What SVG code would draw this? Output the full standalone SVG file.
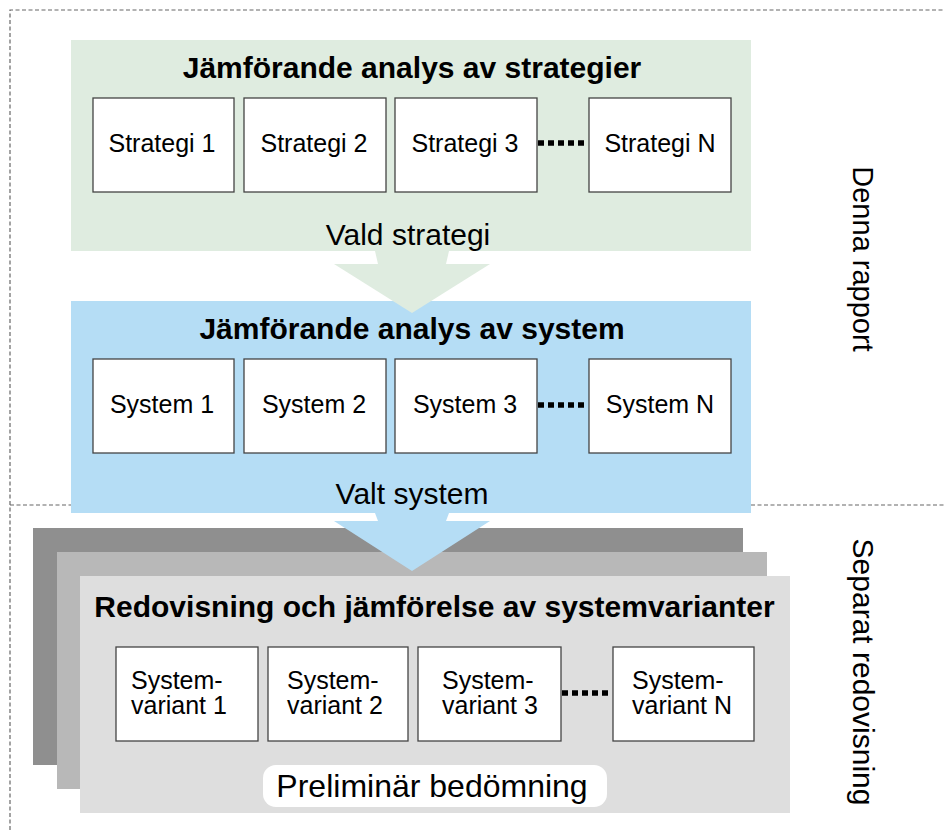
<svg xmlns="http://www.w3.org/2000/svg" width="944" height="830" viewBox="0 0 944 830">
  <style>
    .frame { fill: none; stroke: #666; stroke-width: 1.2; stroke-dasharray: 4 2.5; }
    .box { fill: #fff; stroke: #444; stroke-width: 1.3; }
    .title { font-family: "Liberation Sans", Arial, sans-serif; font-weight: bold; font-size: 30px; fill: #000; text-anchor: middle; }
    .lbl { font-family: "Liberation Sans", Arial, sans-serif; font-size: 25px; fill: #000; }
    .mid { text-anchor: middle; }
    .big { font-family: "Liberation Sans", Arial, sans-serif; font-size: 30px; fill: #000; text-anchor: middle; }
    .side { font-family: "Liberation Sans", Arial, sans-serif; font-size: 29px; fill: #000; text-anchor: middle; }
    .dots { stroke: #000; stroke-width: 5.5; stroke-dasharray: 6 4; fill: none; }
  </style>

  <rect width="944" height="830" fill="#fff"/>

  <!-- dashed report frame and divider -->
  <g id="frame">
    <path class="frame" d="M10 830 V10 H944"/>
    <path class="frame" d="M10 505 H944"/>
  </g>

  <!-- stacked grey backdrop sheets -->
  <g id="variant-stack">
    <rect x="33" y="528" width="710" height="237" fill="#8f8f8f"/>
    <rect x="57" y="552" width="710" height="237" fill="#b8b8b8"/>
  </g>

  <!-- strategies panel -->
  <g id="strategies">
    <rect x="71" y="40" width="680" height="211" fill="#dfece0"/>
    <text class="title" x="412" y="78">Jämförande analys av strategier</text>
    <g id="strategi-1"><rect class="box" x="93" y="98" width="141" height="94"/><text class="lbl mid" x="162" y="152">Strategi 1</text></g>
    <g id="strategi-2"><rect class="box" x="244" y="98" width="142" height="94"/><text class="lbl mid" x="314" y="152">Strategi 2</text></g>
    <g id="strategi-3"><rect class="box" x="395" y="98" width="142" height="94"/><text class="lbl mid" x="465" y="152">Strategi 3</text></g>
    <g id="strategi-n"><rect class="box" x="589" y="98" width="142" height="94"/><text class="lbl mid" x="660" y="152">Strategi N</text></g>
    <text class="big" x="408" y="245">Vald strategi</text>
  </g>

  <!-- systems panel -->
  <g id="systems">
    <rect x="71" y="301" width="680" height="212" fill="#b5ddf5"/>
    <text class="title" x="412" y="339">Jämförande analys av system</text>
    <g id="system-1"><rect class="box" x="93" y="359" width="141" height="94"/><text class="lbl mid" x="162" y="413">System 1</text></g>
    <g id="system-2"><rect class="box" x="244" y="359" width="142" height="94"/><text class="lbl mid" x="314" y="413">System 2</text></g>
    <g id="system-3"><rect class="box" x="395" y="359" width="142" height="94"/><text class="lbl mid" x="465" y="413">System 3</text></g>
    <g id="system-n"><rect class="box" x="589" y="359" width="142" height="94"/><text class="lbl mid" x="660" y="413">System N</text></g>
    <text class="big" x="412" y="504">Valt system</text>
  </g>

  <!-- system variants panel -->
  <g id="variants">
    <rect x="80" y="576" width="710" height="237" fill="#dedede"/>
    <text class="title" x="434.5" y="617">Redovisning och jämförelse av systemvarianter</text>
    <g id="variant-1"><rect class="box" x="116" y="647" width="142" height="94"/><text class="lbl" x="131" y="689">System-</text><text class="lbl" x="131" y="714">variant 1</text></g>
    <g id="variant-2"><rect class="box" x="268" y="647" width="140" height="94"/><text class="lbl" x="287" y="689">System-</text><text class="lbl" x="287" y="714">variant 2</text></g>
    <g id="variant-3"><rect class="box" x="418" y="647" width="143" height="94"/><text class="lbl" x="442" y="689">System-</text><text class="lbl" x="442" y="714">variant 3</text></g>
    <g id="variant-n"><rect class="box" x="613" y="647" width="141" height="94"/><text class="lbl" x="632" y="689">System-</text><text class="lbl" x="632" y="714">variant N</text></g>
    <g id="preliminar">
      <rect x="263" y="765" width="344" height="42" rx="13" fill="#fff"/>
      <text class="big" style="font-size:32px" x="432" y="797">Preliminär bedömning</text>
    </g>
  </g>

  <!-- flow arrows and continuation dots -->
  <g id="connectors">
    <polygon points="375,251 449,251 446,264 490,264 412,313 334,264 378,264" fill="#dfece0"/>
    <polygon points="375,513 449,513 446,521 490,521 412,571 334,521 378,521" fill="#b5ddf5"/>
    <line class="dots" x1="538" y1="143" x2="588" y2="143"/>
    <line class="dots" x1="538" y1="405" x2="588" y2="405"/>
    <line class="dots" x1="562" y1="693" x2="612" y2="693"/>
  </g>

  <!-- side captions -->
  <g id="caption-report"><text class="side" transform="translate(853 259) rotate(90)">Denna rapport</text></g>
  <g id="caption-separate"><text class="side" style="font-size:30px" transform="translate(853 672) rotate(90)">Separat redovisning</text></g>
</svg>
